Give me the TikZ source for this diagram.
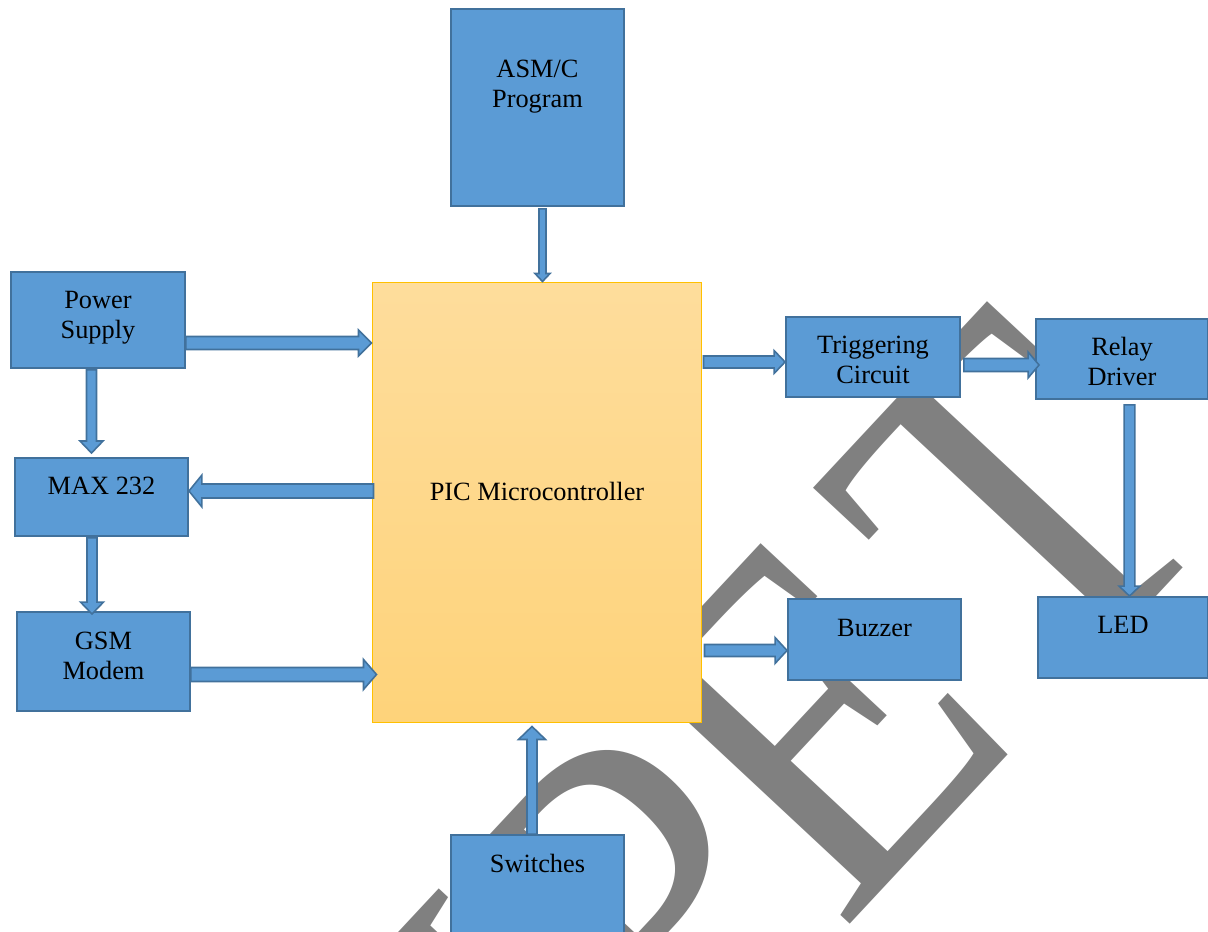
\documentclass[tikz,border=0pt]{standalone}
\usepackage{fontspec}
\setmainfont{Liberation Serif}
\usetikzlibrary{calc}
\definecolor{boxblue}{HTML}{5B9BD5}
\definecolor{boxedge}{HTML}{41719C}
\definecolor{goldtop}{HTML}{FEDD9C}
\definecolor{goldbot}{HTML}{FED37A}
\definecolor{goldedge}{HTML}{FFC000}
\definecolor{markgray}{HTML}{808080}
\begin{document}
\begin{tikzpicture}[x=0.02cm,y=-0.02cm,
   blk/.style={draw=boxedge,fill=boxblue,line width=1.1pt,inner sep=0pt,align=center,
     font=\fontsize{15}{17.6}\selectfont},
   barrow/.style n args={3}{draw=boxedge,fill=boxblue,line width=0.9pt,to path={
     ($(\tikztostart)!#1*0.02cm!90:(\tikztotarget)$)
     -- ($(\tikztotarget)!#3*0.02cm!(\tikztostart)!#1*0.02cm!-90:(\tikztostart)$)
     -- ($(\tikztotarget)!#3*0.02cm!(\tikztostart)!#2*0.02cm!-90:(\tikztostart)$)
     -- (\tikztotarget)
     -- ($(\tikztotarget)!#3*0.02cm!(\tikztostart)!#2*0.02cm!90:(\tikztostart)$)
     -- ($(\tikztotarget)!#3*0.02cm!(\tikztostart)!#1*0.02cm!90:(\tikztostart)$)
     -- ($(\tikztostart)!#1*0.02cm!-90:(\tikztotarget)$) -- cycle}}]
   \useasboundingbox (0,0) rectangle (1208,932);
   \clip (0,0) rectangle (1208,932);

   \node[text=markgray,rotate=47,yscale=1.12,inner sep=0pt,anchor=base east,
   font=\fontsize{252}{252}\selectfont] (mark) at (1230,517)
   {IJP\kern-8pt E\kern16pt T};

   \node[blk,minimum width=3.46cm,text height=1.98cm,text depth=1.96cm]
   (asm) at (537.5,107.5) {ASM/C\\Program};
   \node[draw=goldedge,top color=goldtop,bottom color=goldbot,line width=0.6pt,
   inner sep=0pt,minimum width=6.6cm,text height=4.38cm,text depth=4.44cm,
   font=\fontsize{15}{17.6}\selectfont]
   (pic) at (537,502.5) {PIC Microcontroller};
   \node[blk,minimum width=3.48cm,text height=1.34cm,text depth=0.58cm]
   (pwr) at (98,320) {Power\\Supply};
   \node[blk,minimum width=3.46cm,text height=0.74cm,text depth=0.82cm]
   (max) at (101.5,497) {MAX 232};
   \node[blk,minimum width=3.46cm,text height=1.36cm,text depth=0.62cm]
   (gsm) at (103.5,661.5) {GSM\\Modem};
   \node[blk,minimum width=3.48cm,text height=1.34cm,text depth=0.26cm]
   (trg) at (873,357) {Triggering\\Circuit};
   \node[blk,minimum width=3.44cm,text height=1.34cm,text depth=0.26cm]
   (rly) at (1122,359) {Relay\\Driver};
   \node[blk,minimum width=3.46cm,text height=0.74cm,text depth=0.88cm]
   (buz) at (874.5,639.5) {Buzzer};
   \node[blk,minimum width=3.4cm,text height=0.72cm,text depth=0.9cm]
   (led) at (1123,637.5) {LED};
   \node[blk,minimum width=3.46cm,text height=0.74cm,text depth=3.2cm]
   (sw) at (537.5,933.5) {Switches};

   \coordinate (c1) at ($(asm.south)+(5,2)$);
   \draw[barrow={3.5}{7.5}{8}] (c1) to (c1 |- pic.north);

   \coordinate (c2) at ($(pwr.east)+(0,23)$);
   \draw[barrow={6.5}{13}{13}] (c2) to (pic.west |- c2);

   \coordinate (c3) at ($(pwr.south)+(-6.5,1)$);
   \coordinate (c3b) at ($(c3 |- max.north)+(0,-4)$);
   \draw[barrow={5}{11.5}{12}] (c3) to (c3b);

   \coordinate (c4) at ($(pic.west)+(2,-11.5)$);
   \draw[barrow={7}{16}{13}] (c4) to (max.east |- c4);

   \coordinate (c5) at ($(max.south)+(-9.5,1)$);
   \coordinate (c5b) at ($(c5 |- gsm.north)+(0,3)$);
   \draw[barrow={5}{11.5}{12}] (c5) to (c5b);

   \coordinate (c6) at ($(gsm.east)+(0,13)$);
   \coordinate (c6b) at ($(pic.west |- c6)+(5,0)$);
   \draw[barrow={7}{15}{13}] (c6) to (c6b);

   \coordinate (c7) at ($(pic.east)+(1,-140.5)$);
   \draw[barrow={6}{11.5}{11}] (c7) to (trg.west |- c7);

   \coordinate (c8) at ($(trg.east)+(3,8)$);
   \coordinate (c8b) at ($(rly.west |- c8)+(4,0)$);
   \draw[barrow={6.5}{13}{11}] (c8) to (c8b);

   \coordinate (c9) at ($(rly.south)+(7.5,5)$);
   \draw[barrow={5.3}{10.5}{10}] (c9) to (c9 |- led.north);

   \coordinate (c10) at ($(pic.east)+(2,148)$);
   \draw[barrow={6}{13}{12}] (c10) to (buz.west |- c10);

   \coordinate (c11) at ($(sw.north)+(-5.5,0)$);
   \coordinate (c11b) at ($(c11 |- pic.south)+(0,3)$);
   \draw[barrow={5}{13.5}{13}] (c11) to (c11b);
\end{tikzpicture}
\end{document}
